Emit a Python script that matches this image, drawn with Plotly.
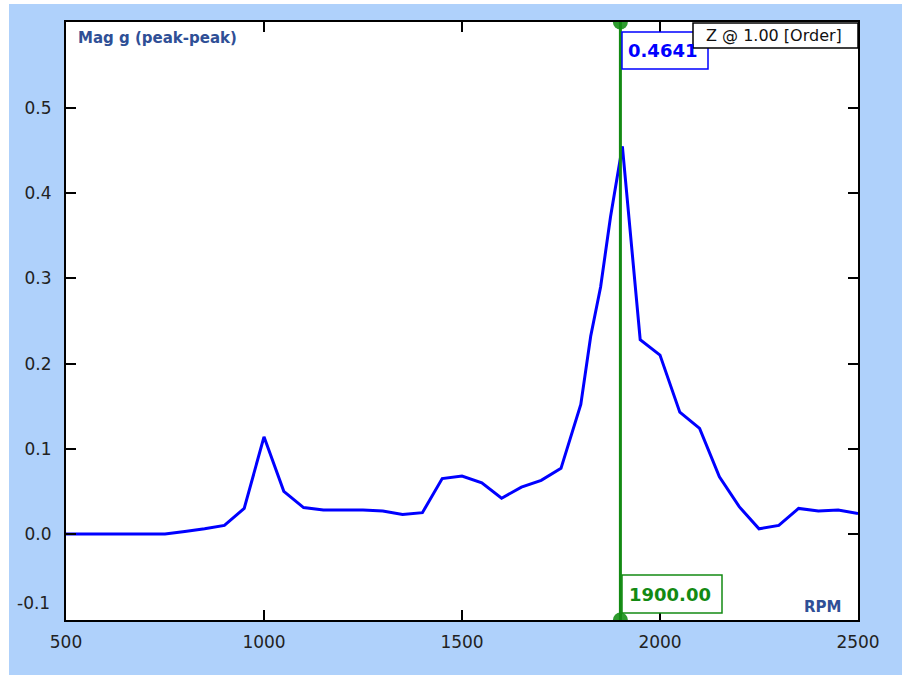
import plotly.graph_objects as go

# ---- data ----
rpm = [500, 550, 600, 650, 700, 750, 800, 850, 900, 950, 1000, 1050, 1100, 1150,
       1200, 1250, 1300, 1350, 1400, 1450, 1500, 1550, 1600, 1650, 1700, 1750,
       1800, 1825, 1850, 1875, 1905, 1950, 2000, 2050, 2100, 2150, 2200, 2250,
       2300, 2350, 2400, 2450, 2500]
mag = [0.0, 0.0, 0.0, 0.0, 0.0, 0.0, 0.003, 0.006, 0.010, 0.030, 0.114, 0.050,
       0.031, 0.028, 0.028, 0.028, 0.027, 0.023, 0.025, 0.065, 0.068, 0.060,
       0.042, 0.055, 0.063, 0.077, 0.152, 0.232, 0.290, 0.372, 0.455, 0.228,
       0.210, 0.143, 0.124, 0.067, 0.032, 0.006, 0.010, 0.030, 0.027, 0.028,
       0.024]

x_ticks = [500, 1000, 1500, 2000, 2500]
y_ticks = [-0.1, 0.0, 0.1, 0.2, 0.3, 0.4, 0.5]
x_range = [500, 2500]
y_range = [-0.101, 0.601]

cursor_rpm = 1900
cursor_label = "1900.00"
cursor_value = "0.4641"
y_title = "Mag g (peak-peak)"
x_title = "RPM"
legend_text = "Z @ 1.00 [Order]"

# ---- style ----
BG = "#AFD1FB"
GREEN = "#138A13"
BLUE = "#0000FF"
LABEL_BLUE = "#2F4F96"
TICK_COLOR = "#222222"
FONT = "DejaVu Sans"

W, H = 902, 675
L, R, T, B = 66, 44, 22, 55
PW, PH = W - L - R, H - T - B


def px(xp):
    return (xp - L) / PW


def py(yp):
    return (H - B - yp) / PH


fig = go.Figure()

fig.add_trace(go.Scatter(
    x=rpm, y=mag, mode="lines",
    line=dict(color=BLUE, width=3),
    hoverinfo="skip", showlegend=False,
))

# cursor end markers (half clipped by plot border)
fig.add_trace(go.Scatter(
    x=[cursor_rpm, cursor_rpm], y=[y_range[1], y_range[0]], mode="markers",
    marker=dict(color="#2E9B2E", size=15, line=dict(width=0)),
    cliponaxis=True, hoverinfo="skip", showlegend=False,
))

shapes = [
    # white frame strips at the left and top edges
    dict(type="rect", xref="paper", yref="paper", x0=px(0), x1=px(9), y0=py(H), y1=py(0),
         fillcolor="white", line=dict(width=0), layer="below"),
    dict(type="rect", xref="paper", yref="paper", x0=px(0), x1=px(W), y0=py(4), y1=py(0),
         fillcolor="white", line=dict(width=0), layer="below"),
    # cursor line
    dict(type="line", xref="x", yref="paper", x0=cursor_rpm, x1=cursor_rpm, y0=0, y1=1,
         line=dict(color=GREEN, width=3)),
    # value box
    dict(type="rect", xref="paper", yref="paper", x0=px(622), x1=px(708), y0=py(69), y1=py(32),
         fillcolor="white", line=dict(color=BLUE, width=1.5)),
    # rpm box
    dict(type="rect", xref="paper", yref="paper", x0=px(622), x1=px(722), y0=py(613), y1=py(575),
         fillcolor="white", line=dict(color=GREEN, width=1.5)),
    # legend box
    dict(type="rect", xref="paper", yref="paper", x0=px(693), x1=px(858), y0=py(48), y1=py(23),
         fillcolor="white", line=dict(color="black", width=1.5)),
]

# tick labels: all but the lowest come from the axis; the lowest sits a bit higher
y_ticktext = [f"{v:.1f}" for v in y_ticks]
y_ticktext[0] = ""

annotations = [
    dict(text=f"{y_ticks[0]:.1f}", xref="paper", yref="y", x=px(52), y=y_ticks[0],
         xanchor="right", yanchor="bottom", yshift=4, showarrow=False,
         font=dict(family=FONT, size=17, color=TICK_COLOR)),
    dict(text=y_title, xref="paper", yref="paper", x=px(76), y=py(38), xanchor="left",
         yanchor="middle", showarrow=False,
         font=dict(family=FONT, size=15, color=LABEL_BLUE, weight="bold")),
    dict(text=x_title, xref="paper", yref="paper", x=px(843), y=py(607), xanchor="right",
         yanchor="middle", showarrow=False,
         font=dict(family=FONT, size=15, color=LABEL_BLUE, weight="bold")),
    dict(text=cursor_value, xref="paper", yref="paper", x=px(662), y=py(51), xanchor="center",
         yanchor="middle", showarrow=False,
         font=dict(family=FONT, size=18, color=BLUE, weight="bold")),
    dict(text=cursor_label, xref="paper", yref="paper", x=px(670), y=py(594), xanchor="center",
         yanchor="middle", showarrow=False,
         font=dict(family=FONT, size=18, color=GREEN, weight="bold")),
    dict(text=legend_text, xref="paper", yref="paper", x=px(774), y=py(36), xanchor="center",
         yanchor="middle", showarrow=False,
         font=dict(family=FONT, size=16, color="#111111")),
]

fig.update_layout(
    width=W, height=H,
    margin=dict(l=L, r=R, t=T, b=B, pad=0),
    paper_bgcolor=BG, plot_bgcolor="white",
    shapes=shapes, annotations=annotations,
    font=dict(family=FONT, size=17, color=TICK_COLOR),
)

fig.update_xaxes(
    range=x_range, tickvals=x_ticks, ticktext=[str(v) for v in x_ticks],
    showgrid=False, zeroline=False,
    showline=True, linecolor="black", linewidth=2, mirror="ticks",
    ticks="inside", ticklen=10, tickwidth=2, tickcolor="black",
    ticklabelstandoff=6,
    tickfont=dict(family=FONT, size=17, color=TICK_COLOR),
)
fig.update_yaxes(
    range=y_range, tickvals=y_ticks, ticktext=y_ticktext,
    showgrid=False, zeroline=False,
    showline=True, linecolor="black", linewidth=2, mirror="ticks",
    ticks="inside", ticklen=10, tickwidth=2, tickcolor="black",
    ticklabelstandoff=9,
    tickfont=dict(family=FONT, size=17, color=TICK_COLOR),
)

fig.write_html("out.html")
